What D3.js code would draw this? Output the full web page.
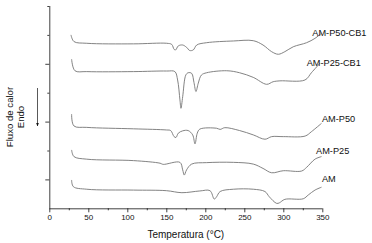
<!DOCTYPE html>
<html>
<head>
<meta charset="utf-8">
<script src="https://cdn.jsdelivr.net/npm/d3@7"></script>
<style>
  body { margin: 0; background: #fff; }
  svg { display: block; font-family: "Liberation Sans", Arial, sans-serif; }
</style>
</head>
<body>
<div id="chart"></div>
<script>
// DSC curves, temperature (°C) vs stacked heat flow (arbitrary units)
var tAM = [28.6, 30.8, 48, 108, 150, 170, 193, 206, 211.5, 214.5, 219, 236, 261.5, 276.5, 282, 291.5, 295, 302, 325.6, 332, 340.6, 349];
var yAM = [0.98, 0.75, 0.66, 0.63, 0.61, 0.54, 0.60, 0.61, 0.32, 0.40, 0.58, 0.66, 0.66, 0.58, 0.40, 0.17, 0.19, 0.31, 0.33, 0.46, 0.63, 0.73];

var tP25 = [28.6, 31.6, 48, 108, 142, 146, 167.5, 171, 173, 176, 182.5, 201.7, 236, 261.5, 274, 285, 300, 323.5, 330, 340.6, 349];
var yP25 = [2.02, 1.79, 1.70, 1.65, 1.56, 1.52, 1.59, 1.33, 1.15, 1.33, 1.53, 1.58, 1.59, 1.53, 1.38, 1.23, 1.30, 1.29, 1.42, 1.70, 1.79];

var tP50 = [28.6, 31.6, 48, 108, 150.4, 155.6, 160, 162.4, 165.4, 171, 178, 183.8, 186.8, 189.7, 193, 214.5, 219, 225, 244, 261.5, 276.5, 285, 300, 328, 336, 349];
var yP50 = [3.26, 2.85, 2.80, 2.75, 2.71, 2.69, 2.48, 2.45, 2.60, 2.68, 2.69, 2.54, 2.23, 2.60, 2.74, 2.77, 2.73, 2.79, 2.69, 2.54, 2.39, 2.48, 2.48, 2.50, 2.65, 2.94];

var tP25CB = [28.6, 32.9, 48, 108, 150.4, 161, 164.5, 167.5, 168.8, 171, 175, 178, 182.5, 185.5, 188, 191, 195, 201.7, 227.4, 244, 261.5, 278.6, 287, 295.7, 327.8, 336, 347];
var yP25CB = [5.16, 4.76, 4.73, 4.73, 4.75, 4.73, 4.44, 3.75, 3.46, 3.86, 4.61, 4.69, 4.67, 4.35, 4.04, 4.33, 4.61, 4.69, 4.76, 4.69, 4.53, 4.29, 4.38, 4.41, 4.44, 4.69, 5.02];

var tP50CB = [27.8, 31.6, 48, 108, 150.4, 157, 160, 162, 165.4, 171, 176, 180, 184.6, 189, 201.7, 236, 261.5, 274, 285, 293.6, 302, 312.8, 329.9, 340.6, 349];
var yP50CB = [6.0, 5.77, 5.71, 5.69, 5.71, 5.67, 5.50, 5.48, 5.62, 5.65, 5.57, 5.46, 5.48, 5.65, 5.73, 5.79, 5.80, 5.65, 5.42, 5.33, 5.42, 5.59, 5.73, 5.88, 6.06];

var seriesNames = ["AM", "AM-P25", "AM-P50", "AM-P25-CB1", "AM-P50-CB1"];
var seriesT = [tAM, tP25, tP50, tP25CB, tP50CB];
var seriesY = [yAM, yP25, yP50, yP25CB, yP50CB];
// label anchor (left x in °C, baseline in y units)
var labelT = [349.6, 342, 349.6, 330, 337.2];
var labelY = [0.91, 1.88, 2.99, 4.94, 5.96];

var xTicks = [0, 50, 100, 150, 200, 250, 300, 350];
var xMinor = [25, 75, 125, 175, 225, 275, 325];
var yMajor = [1, 3, 5];
var yMinor = [2, 4, 6, 7];

var width = 372, height = 243;
var margin = { left: 49.3, right: 49.7, top: 6, bottom: 34.7 };

var svg = d3.select("#chart").append("svg")
  .attr("width", width)
  .attr("height", height);

var x = d3.scaleLinear().domain([0, 350]).range([margin.left, width - margin.right]);
var y = d3.scaleLinear().domain([0, 7]).range([height - margin.bottom, margin.top]);

// x axis
var xAxis = svg.append("g")
  .attr("transform", "translate(0," + y(0) + ")")
  .call(d3.axisBottom(x).tickValues(xTicks).tickSize(4).tickPadding(2).tickFormat(d3.format("d")));
xAxis.selectAll("text").attr("font-size", 8).attr("fill", "#111");
xAxis.select(".domain").attr("d", "M" + x(0) + ",0.5H" + x(350));

var xMinorAxis = svg.append("g")
  .attr("transform", "translate(0," + y(0) + ")")
  .call(d3.axisBottom(x).tickValues(xMinor).tickSize(2).tickFormat(""));
xMinorAxis.select(".domain").remove();

// y axis (labels hidden as in the original)
var yAxis = svg.append("g")
  .attr("transform", "translate(" + x(0) + ",0)")
  .call(d3.axisLeft(y).tickValues(yMajor).tickSize(4).tickFormat(""));
yAxis.select(".domain").attr("d", "M0.5," + y(0) + "V" + y(7));

var yMinorAxis = svg.append("g")
  .attr("transform", "translate(" + x(0) + ",0)")
  .call(d3.axisLeft(y).tickValues(yMinor).tickSize(2).tickFormat(""));
yMinorAxis.select(".domain").remove();

svg.selectAll(".domain, .tick line").attr("stroke", "#111").attr("stroke-width", 0.8);

// curves
var line = d3.line()
  .x(function (d) { return x(d[0]); })
  .y(function (d) { return y(d[1]); })
  .curve(d3.curveCatmullRom.alpha(0.5));

seriesNames.forEach(function (name, i) {
  var pts = seriesT[i].map(function (t, j) { return [t, seriesY[i][j]]; });
  svg.append("path")
    .datum(pts)
    .attr("fill", "none")
    .attr("stroke", "#757575")
    .attr("stroke-width", 0.9)
    .attr("d", line);

  svg.append("text")
    .attr("x", x(labelT[i]))
    .attr("y", y(labelY[i]))
    .attr("font-size", 9.2)
    .attr("fill", "#111")
    .text(name);
});

// axis titles
svg.append("text")
  .attr("x", x(175))
  .attr("y", 238)
  .attr("text-anchor", "middle")
  .attr("font-size", 10)
  .attr("fill", "#111")
  .text("Temperatura (°C)");

var yTitle = svg.append("text")
  .attr("transform", "translate(12.5," + 117 + ") rotate(-90)")
  .attr("text-anchor", "middle")
  .attr("font-size", 9.6)
  .attr("fill", "#111");
yTitle.append("tspan").attr("x", 0).attr("dy", 0).text("Fluxo de calor");
yTitle.append("tspan").attr("x", 0).attr("dy", 11.5).text("Endo");

// endo arrow
svg.append("defs").append("marker")
  .attr("id", "arrow")
  .attr("viewBox", "0 0 10 10")
  .attr("refX", 9).attr("refY", 5)
  .attr("markerWidth", 5).attr("markerHeight", 6)
  .attr("orient", "auto")
  .append("path")
  .attr("d", "M0,1L10,5L0,9Z")
  .attr("fill", "#111");

svg.append("line")
  .attr("x1", 37.5).attr("x2", 37.5)
  .attr("y1", 88).attr("y2", 126)
  .attr("stroke", "#111")
  .attr("stroke-width", 0.7)
  .attr("marker-end", "url(#arrow)");
</script>
</body>
</html>
